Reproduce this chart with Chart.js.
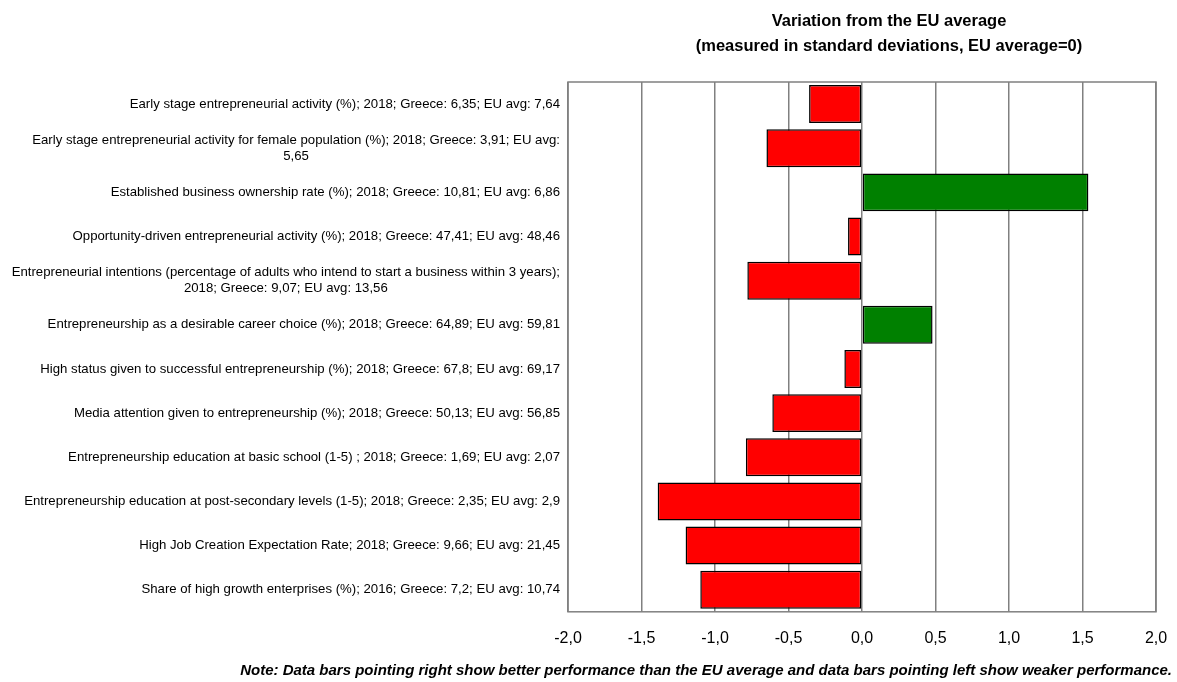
<!DOCTYPE html>
<html>
<head>
<meta charset="utf-8">
<script src="https://cdn.jsdelivr.net/npm/chart.js@4.4.1/dist/chart.umd.min.js"></script>
<style>
  html, body { margin: 0; padding: 0; background: #fff; }
  #wrap { width: 1177px; height: 682px; }
</style>
</head>
<body>
<div id="wrap"><canvas id="chart"></canvas></div>
<script>
/* --------------- Data --------------------- */
const categories = [
  ["Early stage entrepreneurial activity (%); 2018; Greece: 6,35; EU avg: 7,64"],
  ["Early stage entrepreneurial activity for female population (%); 2018; Greece: 3,91; EU avg:", "5,65"],
  ["Established business ownership rate (%); 2018; Greece: 10,81; EU avg: 6,86"],
  ["Opportunity-driven entrepreneurial activity (%); 2018; Greece: 47,41; EU avg: 48,46"],
  ["Entrepreneurial intentions (percentage of adults who intend to start a business within 3 years);", "2018; Greece: 9,07; EU avg: 13,56"],
  ["Entrepreneurship as a desirable career choice (%); 2018; Greece: 64,89; EU avg: 59,81"],
  ["High status given to successful entrepreneurship (%); 2018; Greece: 67,8; EU avg: 69,17"],
  ["Media attention given to entrepreneurship (%); 2018; Greece: 50,13; EU avg: 56,85"],
  ["Entrepreneurship education at basic school (1-5) ; 2018; Greece: 1,69; EU avg: 2,07"],
  ["Entrepreneurship education at post-secondary levels (1-5); 2018; Greece: 2,35; EU avg: 2,9"],
  ["High Job Creation Expectation Rate; 2018; Greece: 9,66; EU avg: 21,45"],
  ["Share of high growth enterprises (%); 2016; Greece: 7,2; EU avg: 10,74"]
];
// variation from EU average, in standard deviations
const variation = [-0.36, -0.65, 1.54, -0.095, -0.78, 0.48, -0.12, -0.61, -0.79, -1.39, -1.2, -1.1];
const xTicks = [-2, -1.5, -1, -0.5, 0, 0.5, 1, 1.5, 2];
const titleLines = ["Variation from the EU average", "(measured in standard deviations, EU average=0)"];
const noteText = "Note: Data bars pointing right show better performance than the EU average and data bars pointing left show weaker performance.";

const FONT = "'Liberation Sans', Arial, sans-serif";

/* --------------- Plugins --------------------- */
// Excel-like category labels: block right aligned, lines centered on each other
const yLabels = {
  id: "yLabels",
  afterDraw(chart) {
    const ctx = chart.ctx;
    const y = chart.scales.y;
    const right = chart.chartArea.left - 8;
    const lh = 16;
    ctx.save();
    ctx.font = "13.2px " + FONT;
    ctx.fillStyle = "#000";
    ctx.textBaseline = "middle";
    ctx.textAlign = "center";
    categories.forEach((lines, i) => {
      const cy = y.getPixelForTick(i);
      const w = Math.max(...lines.map(l => ctx.measureText(l).width));
      const cx = right - w / 2;
      const top = cy - (lines.length - 1) * lh / 2;
      lines.forEach((l, k) => ctx.fillText(l, cx, top + k * lh));
    });
    ctx.restore();
  }
};
// plot box, title and note
const frame = {
  id: "frame",
  beforeDatasetsDraw(chart) {
    const a = chart.chartArea;
    const ctx = chart.ctx;
    ctx.save();
    ctx.strokeStyle = "#808080";
    ctx.lineWidth = 1.5;
    ctx.strokeRect(a.left, a.top, a.right - a.left, a.bottom - a.top);
    ctx.restore();
  },
  afterDraw(chart) {
    const ctx = chart.ctx;
    ctx.save();
    ctx.fillStyle = "#000";
    ctx.textBaseline = "middle";
    ctx.textAlign = "center";
    ctx.font = "bold 16.5px " + FONT;
    titleLines.forEach((t, i) => ctx.fillText(t, 889, 21 + i * 25));
    ctx.textAlign = "right";
    ctx.font = "italic bold 15px " + FONT;
    ctx.fillText(noteText, chart.width - 5, 671);
    ctx.restore();
  }
};

/* --------------- Chart --------------------- */
new Chart(document.getElementById("chart"), {
  type: "bar",
  plugins: [yLabels, frame],
  data: {
    labels: categories,
    datasets: [{
      data: variation,
      backgroundColor: ctx => ctx.raw >= 0 ? "#008000" : "#ff0000",
      borderColor: "#000000",
      borderWidth: 1.5,
      borderSkipped: false,
      categoryPercentage: 0.86,
      barPercentage: 1
    }]
  },
  options: {
    indexAxis: "y",
    responsive: true,
    maintainAspectRatio: false,
    animation: false,
    layout: { padding: { left: 0, right: 21, top: 82, bottom: 17 } },
    plugins: {
      legend: { display: false },
      tooltip: { enabled: false },
      title: { display: false }
    },
    scales: {
      x: {
        min: -2, max: 2,
        afterBuildTicks: s => { s.ticks = xTicks.map(v => ({ value: v })); },
        afterFit: s => { s.paddingLeft = 0; s.paddingRight = 0; },
        grid: { color: "#808080", lineWidth: 1.5, drawTicks: false },
        border: { display: false },
        ticks: {
          color: "#000",
          padding: 17,
          font: { family: FONT, size: 16 },
          callback: v => v.toFixed(1).replace(".", ",")
        }
      },
      y: {
        grid: { display: false },
        border: { display: false },
        ticks: { display: false },
        afterFit: s => { s.width = 568; }
      }
    }
  }
});
</script>
</body>
</html>
